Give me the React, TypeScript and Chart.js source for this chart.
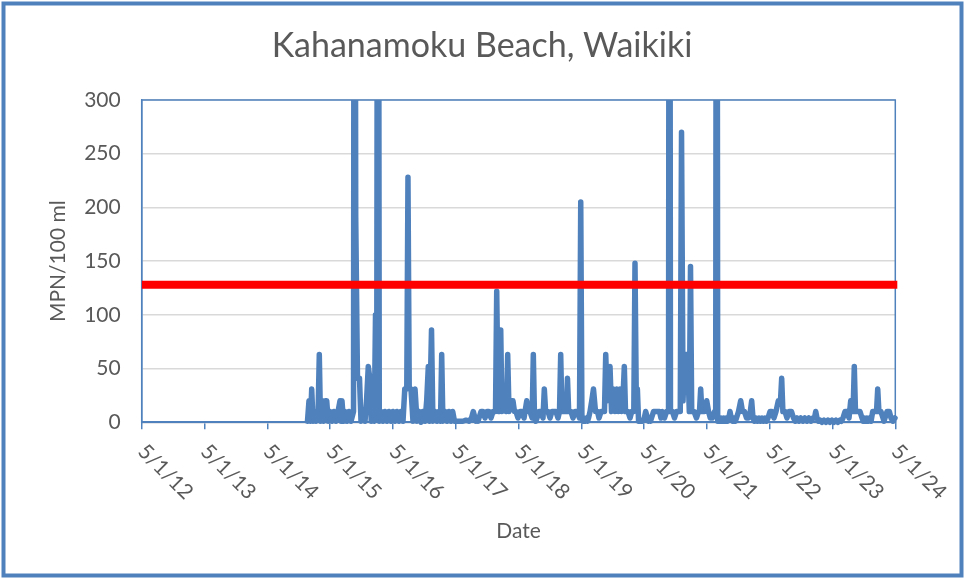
import React, { useEffect, useRef } from 'react';
import { Chart, registerables } from 'chart.js';

Chart.register(...registerables);

// ---------- text ----------
const TITLE = 'Kahanamoku Beach, Waikiki';
const Y_TITLE = 'MPN/100 ml';
const X_TITLE = 'Date';
const X_TICK_LABELS = ['5/1/12', '5/1/13', '5/1/14', '5/1/15', '5/1/16', '5/1/17', '5/1/18', '5/1/19', '5/1/20', '5/1/21', '5/1/22', '5/1/23', '5/1/24'];

// ---------- axes (dates as decimal years) ----------
const X_MIN = 2012.333; // 5/1/12
const X_MAX = 2024.333; // 5/1/24
const Y_MIN = 0;
const Y_MAX = 300;
const Y_STEP = 50;

// ---------- standard (red line) ----------
const STANDARD_VALUE = 128;
const STANDARD_DATES = [2012.333, 2024.365];

// ---------- samples [decimal year, MPN/100 ml] by season (May-April) ----------
const SEASON_2014_15: [number, number][] = [
  [2014.973, 1], [2014.997, 20], [2015.021, 1], [2015.040, 31], [2015.061, 1], [2015.085, 10], [2015.109, 1],
  [2015.142, 10], [2015.161, 63], [2015.180, 1], [2015.209, 20], [2015.231, 1], [2015.255, 20], [2015.279, 20],
  [2015.303, 1], [2015.331, 10],
];
const SEASON_2015_16: [number, number][] = [
  [2015.363, 1], [2015.395, 10], [2015.427, 1], [2015.459, 10], [2015.491, 20], [2015.507, 1], [2015.522, 20],
  [2015.546, 1], [2015.570, 10], [2015.602, 1], [2015.634, 10], [2015.666, 1], [2015.706, 10], [2015.721, 1000],
  [2015.741, 191], [2015.769, 41], [2015.801, 41], [2015.825, 1], [2015.857, 10], [2015.889, 1], [2015.913, 20],
  [2015.941, 52], [2015.965, 41], [2015.988, 1], [2016.016, 10], [2016.037, 1], [2016.056, 100], [2016.075, 10],
  [2016.096, 1000], [2016.116, 1], [2016.144, 10], [2016.175, 1], [2016.207, 10], [2016.239, 1], [2016.271, 10],
  [2016.303, 1],
];
const SEASON_2016_17: [number, number][] = [
  [2016.335, 10], [2016.366, 1], [2016.398, 10], [2016.430, 1], [2016.462, 10], [2016.494, 1], [2016.522, 31],
  [2016.554, 31], [2016.573, 228], [2016.593, 31], [2016.621, 31], [2016.653, 1], [2016.685, 31], [2016.717, 1],
  [2016.749, 10], [2016.780, 0], [2016.812, 10], [2016.844, 1], [2016.871, 20], [2016.897, 52], [2016.916, 1],
  [2016.948, 86], [2016.970, 1], [2017.003, 10], [2017.035, 1], [2017.067, 10], [2017.091, 1], [2017.110, 63],
  [2017.129, 1], [2017.163, 10], [2017.195, 1], [2017.226, 10], [2017.258, 1], [2017.285, 10], [2017.314, 1],
];
const SEASON_2017_18: [number, number][] = [
  [2017.354, 1], [2017.401, 1], [2017.449, 1], [2017.497, 2], [2017.545, 1], [2017.585, 4], [2017.613, 10],
  [2017.640, 4], [2017.656, 1], [2017.672, 4], [2017.688, 1], [2017.704, 4], [2017.736, 10], [2017.768, 10],
  [2017.800, 4], [2017.831, 10], [2017.863, 10], [2017.895, 4], [2017.927, 10], [2017.967, 10], [2017.986, 122],
  [2018.011, 10], [2018.030, 10], [2018.050, 86], [2018.069, 10], [2018.102, 20], [2018.139, 10], [2018.161, 63],
  [2018.182, 10], [2018.222, 20], [2018.245, 20], [2018.269, 10], [2018.293, 10], [2018.325, 4],
];
const SEASON_2018_19: [number, number][] = [
  [2018.357, 10], [2018.389, 10], [2018.421, 4], [2018.464, 20], [2018.492, 10], [2018.516, 10], [2018.550, 4],
  [2018.569, 63], [2018.588, 4], [2018.608, 1], [2018.628, 4], [2018.659, 10], [2018.691, 10], [2018.723, 4],
  [2018.744, 31], [2018.765, 10], [2018.803, 10], [2018.835, 4], [2018.866, 10], [2018.898, 10], [2018.930, 10],
  [2018.962, 4], [2018.986, 10], [2019.005, 63], [2019.024, 10], [2019.066, 10], [2019.094, 10], [2019.113, 41],
  [2019.132, 10], [2019.169, 10], [2019.201, 4], [2019.233, 10], [2019.265, 10], [2019.304, 4], [2019.324, 205],
];
const SEASON_2019_20: [number, number][] = [
  [2019.343, 4], [2019.360, 1], [2019.376, 4], [2019.396, 1], [2019.416, 4], [2019.432, 1], [2019.448, 4],
  [2019.472, 10], [2019.499, 20], [2019.527, 31], [2019.559, 10], [2019.591, 10], [2019.615, 4], [2019.647, 10],
  [2019.679, 10], [2019.702, 10], [2019.722, 63], [2019.747, 20], [2019.790, 52], [2019.814, 10], [2019.843, 31],
  [2019.870, 10], [2019.897, 31], [2019.922, 10], [2019.949, 31], [2019.976, 10], [2019.995, 20], [2020.018, 52],
  [2020.037, 10], [2020.077, 10], [2020.109, 4], [2020.136, 10], [2020.169, 10], [2020.188, 148], [2020.207, 31],
  [2020.226, 31], [2020.245, 1], [2020.276, 1], [2020.308, 1],
];
const SEASON_2020_21: [number, number][] = [
  [2020.336, 4], [2020.358, 10], [2020.387, 4], [2020.403, 1], [2020.419, 4], [2020.435, 1], [2020.451, 4],
  [2020.483, 10], [2020.515, 10], [2020.546, 10], [2020.578, 10], [2020.602, 4], [2020.626, 10], [2020.658, 4],
  [2020.690, 10], [2020.722, 10], [2020.737, 1000], [2020.753, 10], [2020.785, 10], [2020.817, 4], [2020.849, 10],
  [2020.881, 10], [2020.909, 10], [2020.929, 270], [2020.953, 20], [2020.976, 63], [2021.024, 63], [2021.053, 10],
  [2021.072, 145], [2021.091, 10], [2021.128, 10], [2021.167, 4], [2021.199, 10], [2021.215, 10], [2021.234, 31],
  [2021.253, 10], [2021.295, 10], [2021.330, 20],
];
const SEASON_2021_22: [number, number][] = [
  [2021.359, 10], [2021.387, 4], [2021.419, 4], [2021.454, 10], [2021.473, 10], [2021.489, 1000], [2021.505, 1],
  [2021.523, 4], [2021.542, 1], [2021.561, 4], [2021.581, 1], [2021.601, 4], [2021.621, 1], [2021.641, 4],
  [2021.661, 1], [2021.682, 4], [2021.701, 10], [2021.720, 4], [2021.742, 1], [2021.765, 4], [2021.785, 1],
  [2021.804, 4], [2021.836, 10], [2021.871, 20], [2021.900, 10], [2021.932, 10], [2021.964, 4], [2021.995, 4],
  [2022.024, 10], [2022.046, 20], [2022.067, 4], [2022.091, 1], [2022.115, 4], [2022.139, 1], [2022.163, 4],
  [2022.187, 1], [2022.210, 4], [2022.234, 1], [2022.258, 4], [2022.282, 1], [2022.306, 4],
];
const SEASON_2022_23: [number, number][] = [
  [2022.338, 10], [2022.370, 10], [2022.401, 4], [2022.433, 10], [2022.470, 20], [2022.505, 20], [2022.524, 41],
  [2022.543, 10], [2022.577, 10], [2022.608, 4], [2022.640, 10], [2022.680, 10], [2022.712, 4], [2022.740, 1],
  [2022.768, 4], [2022.800, 1], [2022.831, 4], [2022.863, 1], [2022.895, 4], [2022.927, 1], [2022.959, 4],
  [2022.990, 1], [2023.022, 4], [2023.046, 4], [2023.066, 10], [2023.086, 4], [2023.110, 1], [2023.134, 2],
  [2023.166, 0], [2023.198, 2], [2023.230, 0], [2023.261, 2], [2023.293, 0], [2023.325, 2],
];
const SEASON_2023_24: [number, number][] = [
  [2023.357, 0], [2023.389, 2], [2023.420, 0], [2023.452, 2], [2023.475, 1], [2023.500, 4], [2023.532, 10],
  [2023.564, 10], [2023.596, 4], [2023.623, 20], [2023.644, 10], [2023.661, 10], [2023.680, 52], [2023.699, 10],
  [2023.739, 10], [2023.771, 10], [2023.803, 4], [2023.823, 1], [2023.843, 4], [2023.862, 1], [2023.882, 4],
  [2023.902, 1], [2023.922, 4], [2023.947, 1], [2023.973, 10], [2024.002, 10], [2024.034, 10], [2024.053, 31],
  [2024.072, 10], [2024.105, 10], [2024.137, 4], [2024.153, 1], [2024.169, 4], [2024.201, 10], [2024.238, 10],
  [2024.265, 4], [2024.296, 1], [2024.328, 4],
];

const SEASONS = [
  SEASON_2014_15, SEASON_2015_16, SEASON_2016_17, SEASON_2017_18, SEASON_2018_19,
  SEASON_2019_20, SEASON_2020_21, SEASON_2021_22, SEASON_2022_23, SEASON_2023_24,
];

// ---------- style ----------
const BLUE = '#4f81bd';
const RED = '#ff0000';
const TEXT = '#595959';
const GRID = '#d9d9d9';
const FONT = 'Lato';

const framePlugin = {
  id: 'frame',
  beforeDraw(chart: any) {
    const { ctx, width, height } = chart;
    ctx.save();
    ctx.fillStyle = '#ffffff';
    ctx.fillRect(0, 0, width, height);
    ctx.restore();
  },
  beforeDatasetsDraw(chart: any) {
    const { ctx, chartArea } = chart;
    ctx.save();
    ctx.strokeStyle = BLUE;
    ctx.lineWidth = 1.5;
    ctx.strokeRect(chartArea.left, chartArea.top, chartArea.right - chartArea.left, chartArea.bottom - chartArea.top);
    ctx.restore();
  },
  afterDraw(chart: any) {
    const { ctx, width, height, chartArea } = chart;
    const xs = chart.scales.x;
    ctx.save();
    ctx.font = `21px ${FONT}`;
    ctx.fillStyle = TEXT;
    ctx.textAlign = 'left';
    ctx.textBaseline = 'alphabetic';
    xs.ticks.forEach((_t: any, i: number) => {
      const px = xs.getPixelForTick(i);
      ctx.save();
      ctx.translate(px - 5, chartArea.bottom + 30.5);
      ctx.rotate(Math.PI / 4);
      ctx.fillText(X_TICK_LABELS[i] ?? '', 0, 0);
      ctx.restore();
    });
    ctx.strokeStyle = BLUE;
    ctx.lineWidth = 4;
    ctx.strokeRect(3.5, 3.5, width - 6, height - 8);
    ctx.restore();
  },
};

export default function App() {
  const ref = useRef<HTMLCanvasElement | null>(null);

  useEffect(() => {
    const canvas = ref.current;
    if (!canvas) return;
    Chart.defaults.font.family = FONT;

    const samples = SEASONS.flat().map(([x, y]) => ({ x, y }));
    const standard = STANDARD_DATES.map((x) => ({ x, y: STANDARD_VALUE }));
    const titleFont = { family: FONT, size: 21, weight: 'normal' as const, lineHeight: 1.2 };

    const chart = new Chart(canvas, {
      type: 'line',
      data: {
        datasets: [
          {
            label: 'Standard',
            data: standard,
            borderColor: RED,
            backgroundColor: RED,
            borderWidth: 8,
            borderCapStyle: 'butt',
            pointRadius: 0,
            fill: false,
            clip: { left: 0, top: 0, right: 4, bottom: 0 } as any,
          },
          {
            label: 'Kahanamoku Beach',
            data: samples,
            borderColor: BLUE,
            backgroundColor: BLUE,
            borderWidth: 5.5,
            borderJoinStyle: 'round',
            borderCapStyle: 'round',
            tension: 0,
            pointRadius: 0,
            fill: false,
            clip: { left: 3, top: 0, right: 3, bottom: 5 } as any,
          },
        ],
      },
      options: {
        responsive: false,
        animation: false,
        devicePixelRatio: 1,
        layout: { padding: 0 },
        plugins: {
          legend: { display: false },
          tooltip: { enabled: false },
          title: {
            display: true,
            text: TITLE,
            color: TEXT,
            font: { family: FONT, size: 34, weight: 'normal', lineHeight: 1.2 },
            padding: { top: 26, bottom: 33.2 },
          },
        },
        scales: {
          x: {
            type: 'linear',
            min: X_MIN,
            max: X_MAX,
            ticks: { display: false, stepSize: 1 },
            grid: { display: true, drawOnChartArea: false, drawTicks: true, tickLength: 7, color: BLUE, lineWidth: 1.5 },
            border: { display: true, color: BLUE, width: 2 },
            title: { display: true, text: X_TITLE, color: TEXT, font: titleFont, padding: { top: 0, bottom: 36.5 } },
            afterFit: (s: any) => { s.height = 157.7; },
          },
          y: {
            type: 'linear',
            min: Y_MIN,
            max: Y_MAX,
            ticks: { stepSize: Y_STEP, color: TEXT, font: { family: FONT, size: 21 }, padding: 21 },
            grid: { color: GRID, lineWidth: 1.5, drawTicks: false },
            border: { display: true, color: BLUE, width: 1.5 },
            title: { display: true, text: Y_TITLE, color: TEXT, font: titleFont, padding: { top: 46, bottom: 0 } },
            afterFit: (s: any) => { s.width = 141.7; },
          },
          yRight: {
            type: 'linear',
            position: 'right',
            display: true,
            ticks: { display: false },
            grid: { display: false },
            border: { display: false },
            afterFit: (s: any) => { s.width = 68.7; },
          },
        },
      } as any,
      plugins: [framePlugin],
    });

    return () => chart.destroy();
  }, []);

  return (
    <div style={{ position: 'absolute', left: 0, top: 0, width: 964, height: 580, background: '#fff' }}>
      <canvas ref={ref} width={964} height={580} style={{ display: 'block', width: 964, height: 580 }} />
    </div>
  );
}
